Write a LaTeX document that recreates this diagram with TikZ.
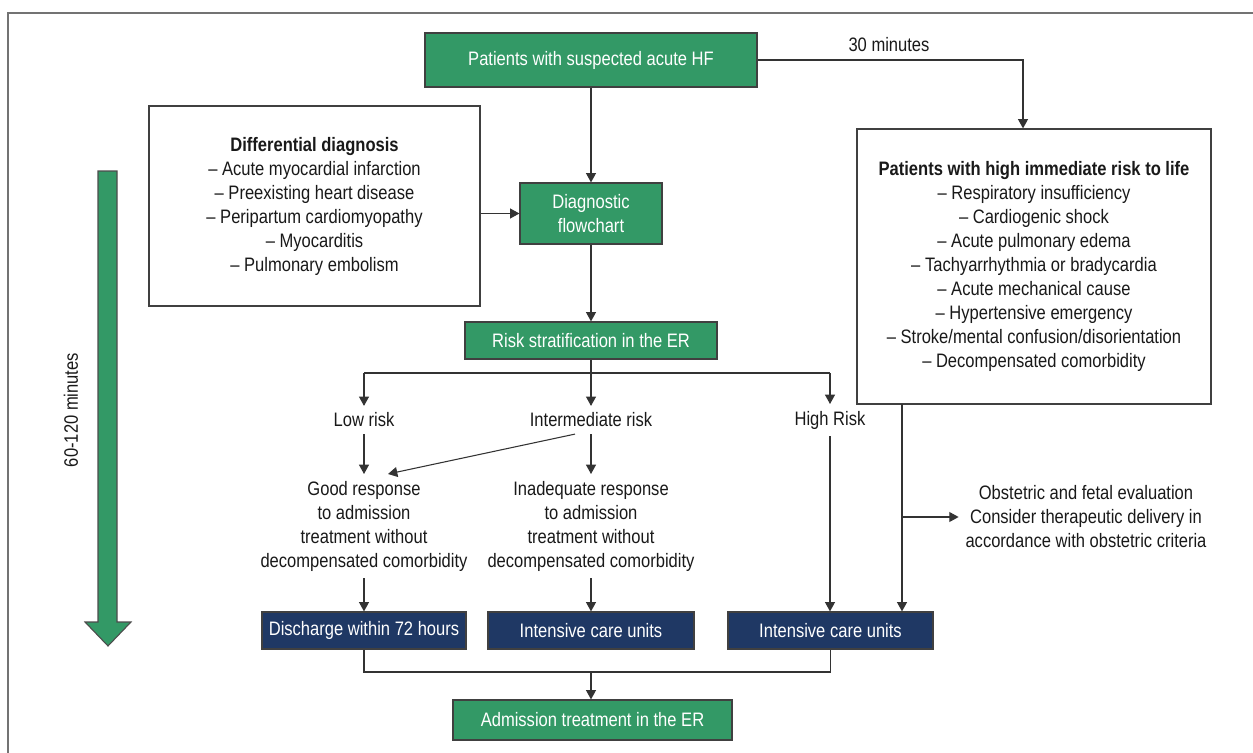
\documentclass[tikz,border=0pt]{standalone}
\usepackage{fontspec}
\setmainfont{Liberation Sans}[FakeStretch=0.85]
\usepackage{tikz}
\usetikzlibrary{arrows.meta}
\definecolor{hfgreen}{RGB}{51,153,102}
\definecolor{hfnavy}{RGB}{31,56,100}
\tikzset{
  txt/.style={font=\fontsize{14.6pt}{18pt}\selectfont, align=center},
  greenbox/.style={txt, draw=black!75, line width=0.9pt, fill=hfgreen, text=white, inner sep=0pt},
  navybox/.style={greenbox, fill=hfnavy},
  listbox/.style={txt, draw=black!75, line width=0.9pt, fill=white, text=black!90, inner sep=0pt},
  lbl/.style={txt, text=black!90, inner sep=5pt},
  arr/.style={draw=black!80, line width=0.8pt, -{Triangle[length=7pt,width=7.5pt]}},
  ln/.style={draw=black!80, line width=0.8pt}
}
\begin{document}
\begin{tikzpicture}[x=0.75pt,y=0.75pt,yscale=-1,xscale=1]
\useasboundingbox (0,0) rectangle (1253,753);

%Frame
\draw[black!55, line width=0.8pt] (8,753) -- (8,13) -- (1253,13);

%Shape: Green boxes
\node[greenbox, minimum width=249pt, minimum height=40.5pt] (suspect) at (591,60) {Patients with suspected acute HF};
\node[greenbox, minimum width=106.5pt, minimum height=45.75pt] (diag) at (591,213.5) {Diagnostic\\flowchart};
\node[greenbox, minimum width=189pt, minimum height=27.75pt] (strat) at (591,340.5) {Risk stratification in the ER};
\node[greenbox, minimum width=209.25pt, minimum height=30pt] (admit) at (592.5,720) {Admission treatment in the ER};

%Shape: List boxes
\node[listbox, minimum width=248.25pt, minimum height=150pt] (diff) at (314.5,206) {\textbf{Differential diagnosis}\\
-- Acute myocardial infarction\\
-- Preexisting heart disease\\
-- Peripartum cardiomyopathy\\
-- Myocarditis\\
-- Pulmonary embolism};
\node[listbox, minimum width=265.5pt, minimum height=206.25pt] (life) at (1034,266.5) {\textbf{Patients with high immediate risk to life}\\
-- Respiratory insufficiency\\
-- Cardiogenic shock\\
-- Acute pulmonary edema\\
-- Tachyarrhythmia or bradycardia\\
-- Acute mechanical cause\\
-- Hypertensive emergency\\
-- Stroke/mental confusion/disorientation\\
-- Decompensated comorbidity};

%Shape: Navy boxes
\node[navybox, minimum width=153pt, minimum height=27.75pt] (discharge) at (364,630.5) {Discharge within 72 hours};
\node[navybox, minimum width=154.5pt, minimum height=27.75pt] (icumid) at (591,630.5) {Intensive care units};
\node[navybox, minimum width=153.75pt, minimum height=27.75pt] (icuright) at (830.5,630.5) {Intensive care units};

% Text Node
\node[lbl] (minutes30) at (889,45) {30 minutes};
\node[lbl] (low) at (364,420) {Low risk};
\node[lbl] (inter) at (591,420) {Intermediate risk};
\node[lbl] (high) at (830,420) {High Risk};
\node[lbl] (good) at (364,526) {Good response\\to admission\\treatment without\\decompensated comorbidity};
\node[lbl] (inad) at (591,526) {Inadequate response\\to admission\\treatment without\\decompensated comorbidity};
\node[lbl] (obst) at (1086,517) {Obstetric and fetal evaluation\\Consider therapeutic delivery in\\accordance with obstetric criteria};
\node[lbl, rotate=90] (minutes60) at (71,410) {60-120 minutes};

%Shape: Time arrow
\draw[fill=hfgreen, draw=black!70, line width=0.8pt] (98,171) -- (117,171) -- (117,622) -- (131,622) -- (108,646) -- (85,622) -- (98,622) -- cycle;

%Joints
\coordinate (split) at (591,373);
\coordinate (lifeout) at (902,404);
\coordinate (merge) at (591,672);

%Straight Lines
\draw[arr] (suspect) -- (diag);
\draw[arr] (diff.east |- diag.west) -- (diag.west);
\draw[arr] (suspect.east) -| ([xshift=-8.25pt]life.north);
\draw[arr] (diag) -- (strat);
\draw[ln] (strat) -- (split);
\draw[ln] (low.north |- split) -- (high.north |- split);
\draw[arr] (low.north |- split) -- (low.north);
\draw[arr] (inter.north |- split) -- (inter.north);
\draw[arr] (high.north |- split) -- (high.north);
\draw[arr] (low) -- (good);
\draw[arr] (inter) -- (inad);
\draw[arr] ([xshift=-12pt]inter.south) -- ([xshift=18pt]good.north);
\draw[arr] (good) -- (discharge);
\draw[arr] (inad) -- (icumid);
\draw[arr] (high.south) -- (high.south |- icuright.north);
\draw[arr] (lifeout) -- (lifeout |- icuright.north);
\draw[arr] (lifeout |- obst.west) -- (obst.west);
\draw[ln] (discharge.south) |- (merge) -| (icuright.south);
\draw[arr] (merge) -- (merge |- admit.north);

\end{tikzpicture}
\end{document}
